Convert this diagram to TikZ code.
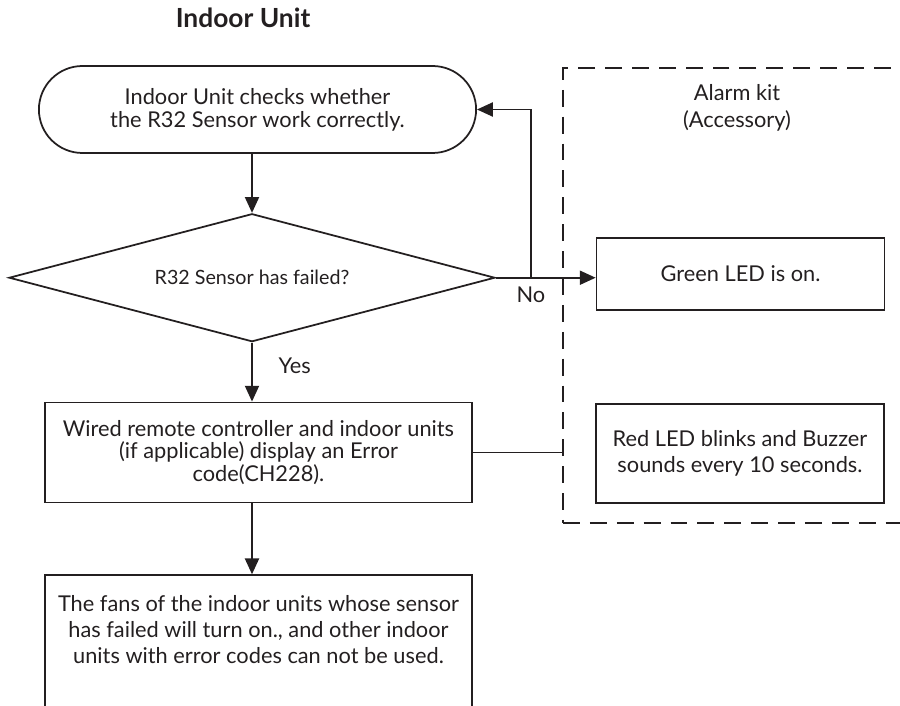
\documentclass[tikz,border=0pt]{standalone}
\usepackage{fontspec}
\setmainfont{Lato}
\usetikzlibrary{shapes.geometric, shapes.misc, arrows.meta, positioning}
\definecolor{ink}{HTML}{231F20}
\newcommand{\bodyfont}{\fontsize{12.4}{15}\selectfont}
\newcommand{\tightfont}{\fontsize{12.4}{13}\selectfont}
\tikzset{
    terminal/.style={
        rounded rectangle, draw=ink, line width=1pt,
        minimum width=8.98cm, minimum height=1.74cm,
        align=center, text=ink, font=\tightfont
    },
    decision/.style={
        diamond, draw=ink, line width=1pt, aspect=3.8, inner sep=0pt,
        minimum width=9.72cm, minimum height=2.56cm,
        text=ink, font=\fontsize{11.2}{13}\selectfont
    },
    flowbox/.style={
        rectangle, draw=ink, line width=1pt,
        minimum width=8.54cm, minimum height=2cm,
        align=center, text=ink, font=\tightfont
    },
    kitbox/.style={
        rectangle, draw=ink, line width=1pt,
        minimum width=5.76cm, minimum height=1.44cm,
        align=center, text=ink, font=\bodyfont
    },
    frame/.style={draw=ink, line width=1.2pt, dash pattern=on 9.6pt off 5.7pt},
    wire/.style={draw=ink, line width=1pt, -{Triangle[length=9pt, width=8pt]}},
    link/.style={draw=ink, line width=1pt},
    lbl/.style={text=ink, font=\bodyfont}
}
\begin{document}
\begin{tikzpicture}[x=0.02cm, y=-0.02cm]
\useasboundingbox (0,0) rectangle (900,706);

% Title
\node[text=ink, font=\fontsize{15}{18}\selectfont\bfseries] (title) at (243,18) {Indoor Unit};

% Indoor unit flow
\node[terminal] (start) at (257.5,109.5) {Indoor Unit checks whether\\the R32 Sensor work correctly.};
\node[decision, below=1.18cm of start, xshift=-0.11cm] (dec) {R32 Sensor has failed?};
\node[flowbox, below=1.18cm of dec, xshift=0.13cm] (err) {Wired remote controller and indoor units\\(if applicable) display an Error\\code(CH228).};
\node[flowbox, below=1.42cm of err, minimum height=2.7cm, font=\bodyfont] (fans) {The fans of the indoor units whose sensor\\has failed will turn on., and other indoor\\units with error codes can not be used.\\\mbox{}};

\draw[wire] (start.south -| dec.north) -- (dec.north);
\draw[wire] (dec.south) -- node[lbl, right=0.4cm, pos=0.4] (yes) {Yes} (dec.south |- err.north);
\draw[wire] (dec.south |- err.south) -- (dec.south |- fans.north);

% Alarm kit
\node[frame, rectangle, anchor=north west, minimum width=7.6cm, minimum height=9.1cm] (kit) at (562,67) {};
\node[lbl, align=center] (kitname) at (737,108) {Alarm kit\\(Accessory)};
\node[kitbox] (green) at (740.5,274) {Green LED is on.};
\node[kitbox, minimum height=1.98cm] (red) at (740,453.5) {Red LED blinks and Buzzer\\sounds every 10 seconds.};

% No branch and feedback
\coordinate[right=0.7cm of dec.east] (split);
\draw[wire] (dec.east) -- (dec.east -| green.west);
\draw[wire] (split) |- (start.east);
\node[lbl, below=0.05cm of split] (no) {No};

\draw[link] (err.east) -- (err.east -| kit.west);

\end{tikzpicture}
\end{document}
